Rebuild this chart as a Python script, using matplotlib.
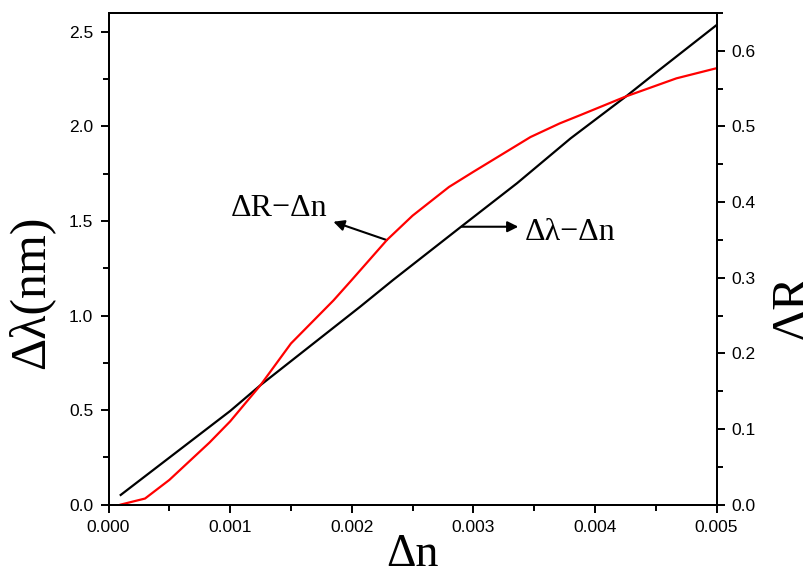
import matplotlib.pyplot as plt
from matplotlib.ticker import MultipleLocator

# data
dn_lam = [0.0001, 0.001, 0.00125, 0.00207, 0.00234, 0.0029, 0.00336, 0.0038, 0.00426, 0.00451, 0.005]
dlam = [0.051, 0.495, 0.632, 1.047, 1.188, 1.47, 1.70, 1.937, 2.161, 2.289, 2.536]

dn_R = [0.0001, 0.0003, 0.0005, 0.00083, 0.001, 0.00125, 0.0015, 0.00185, 0.002, 0.00229,
        0.0025, 0.0028, 0.003, 0.00347, 0.00371, 0.00388, 0.00426, 0.00467, 0.005]
dR = [0.0, 0.008, 0.0326, 0.082, 0.11, 0.158, 0.213, 0.27, 0.297, 0.35,
      0.382, 0.42, 0.44, 0.486, 0.504, 0.515, 0.54, 0.5636, 0.577]

serif = 'Liberation Serif'
sans = 'Liberation Sans'

fig = plt.figure(figsize=(8.04, 5.78), dpi=100)
ax = fig.add_axes([0.135, 0.127, 0.7562, 0.8505])
ax2 = ax.twinx()

ax.plot(dn_lam, dlam, color='black', lw=1.6)
ax2.plot(dn_R, dR, color='red', lw=1.6)

ax.set_xlim(0, 0.005)
ax.set_ylim(0, 2.6)
ax2.set_ylim(0, 0.65)

ax.xaxis.set_major_locator(MultipleLocator(0.001))
ax.xaxis.set_minor_locator(MultipleLocator(0.0005))
ax.yaxis.set_major_locator(MultipleLocator(0.5))
ax.yaxis.set_minor_locator(MultipleLocator(0.25))
ax2.yaxis.set_major_locator(MultipleLocator(0.1))
ax2.yaxis.set_minor_locator(MultipleLocator(0.05))
ax.xaxis.set_major_formatter(plt.FormatStrFormatter('%.3f'))
ax.yaxis.set_major_formatter(plt.FormatStrFormatter('%.1f'))
ax2.yaxis.set_major_formatter(plt.FormatStrFormatter('%.1f'))

for a in (ax, ax2):
    a.tick_params(which='major', direction='out', length=6, width=1.4, pad=5, labelsize=12.5)
    a.tick_params(which='minor', direction='out', length=4.3, width=1.4)
    for s in a.spines.values():
        s.set_linewidth(1.4)
    for lab in a.get_xticklabels() + a.get_yticklabels():
        lab.set_family(sans)

ax.set_xlabel('Δn', fontsize=33, family=serif)
ax.xaxis.set_label_coords(0.5, -0.058)
ax.set_ylabel('Δλ(nm)', fontsize=36, family=serif)
ax.yaxis.set_label_coords(-0.0896, 0.4325)
ax2.set_ylabel('ΔR', fontsize=36, family=serif)
ax2.yaxis.set_label_coords(1.088, 0.402)

arrow = dict(arrowstyle='-|>', color='black', lw=1.5, shrinkA=0, shrinkB=0, mutation_scale=16)
ax.annotate('', xy=(0.001849, 1.496), xytext=(0.002288, 1.399), arrowprops=arrow)
ax.annotate('', xy=(0.00337, 1.4696), xytext=(0.0029046, 1.4696), arrowprops=arrow)
ax.text(0.001402, 1.526, 'ΔR−Δn', fontsize=23, family=serif, ha='center', va='baseline')
ax.text(0.003425, 1.399, 'Δλ−Δn', fontsize=23, family=serif, ha='left', va='baseline')

fig.savefig('out.png', dpi=100)
